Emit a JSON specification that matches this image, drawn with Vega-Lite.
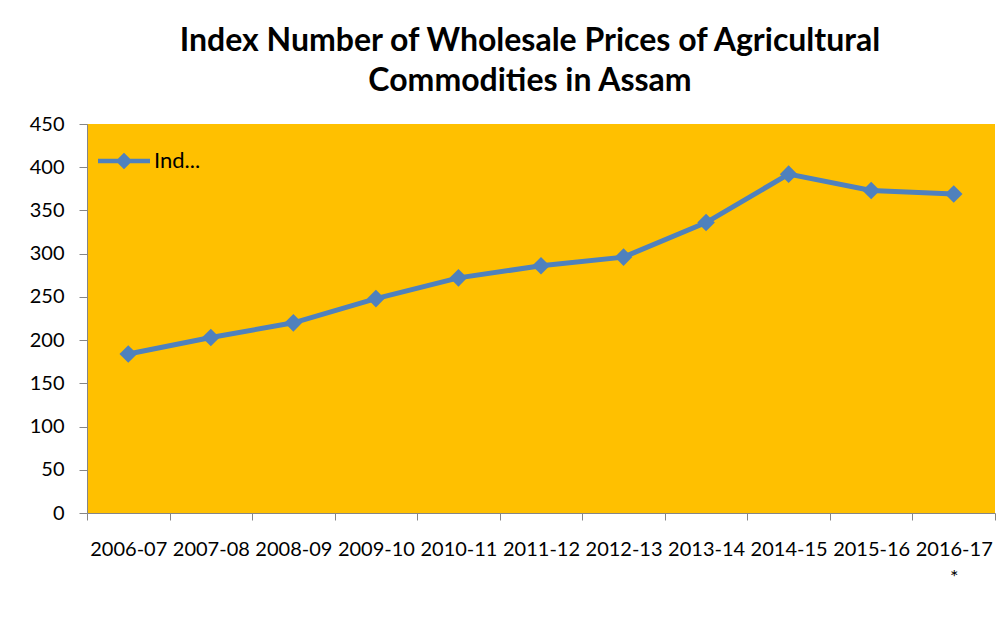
{
  "$schema": "https://vega.github.io/schema/vega-lite/v6.json",
  "autosize": {"type": "none"},
  "width": 908,
  "height": 389,
  "padding": {"left": 87, "top": 124, "right": 2, "bottom": 113},
  "background": "white",
  "title": {
    "text": ["Index Number of Wholesale Prices of Agricultural", "Commodities in Assam"],
    "font": "Lato",
    "fontSize": 32,
    "fontWeight": "bold",
    "color": "#000000",
    "lineHeight": 40,
    "offset": 16,
    "anchor": "middle",
    "dx": -11
  },
  "data": {
    "values": [
      {"year": "2006-07", "value": 184, "series": "Index"},
      {"year": "2007-08", "value": 203, "series": "Index"},
      {"year": "2008-09", "value": 220, "series": "Index"},
      {"year": "2009-10", "value": 248, "series": "Index"},
      {"year": "2010-11", "value": 272, "series": "Index"},
      {"year": "2011-12", "value": 286, "series": "Index"},
      {"year": "2012-13", "value": 296, "series": "Index"},
      {"year": "2013-14", "value": 336, "series": "Index"},
      {"year": "2014-15", "value": 392, "series": "Index"},
      {"year": "2015-16", "value": 373, "series": "Index"},
      {"year": "2016-17 *", "value": 369, "series": "Index"}
    ]
  },
  "encoding": {
    "x": {
      "field": "year",
      "type": "ordinal",
      "sort": null,
      "scale": {"type": "band", "paddingInner": 0, "paddingOuter": 0},
      "bandPosition": 0.5,
      "axis": {
        "title": null,
        "tickBand": "extent",
        "labelAngle": 0,
        "labelFont": "Lato",
        "labelFontSize": 20,
        "labelColor": "#000000",
        "labelPadding": 19,
        "labelLineHeight": 28,
        "labelOverlap": false,
        "labelBound": false,
        "labelFlush": false,
        "labelExpr": "split(datum.label, ' ')",
        "domainColor": "#868686",
        "tickColor": "#868686",
        "tickSize": 7,
        "grid": false
      }
    },
    "y": {
      "field": "value",
      "type": "quantitative",
      "scale": {"domain": [0, 450], "nice": false},
      "axis": {
        "title": null,
        "values": [0, 50, 100, 150, 200, 250, 300, 350, 400, 450],
        "labelFont": "Lato",
        "labelFontSize": 20,
        "labelColor": "#000000",
        "labelPadding": 15,
        "domainColor": "#868686",
        "tickColor": "#868686",
        "tickSize": 8,
        "grid": false
      }
    },
    "color": {
      "field": "series",
      "type": "nominal",
      "scale": {"range": ["#4F81BD"]},
      "legend": {
        "title": null,
        "orient": "top-left",
        "offset": 11,
        "padding": 0,
        "labelFont": "Lato",
        "labelFontSize": 22,
        "labelColor": "#000000",
        "labelExpr": "'Ind...'",
        "labelOffset": 4,
        "symbolType": "M-1,-0.09L1,-0.09L1,0.09L-1,0.09Z M0,-0.32L0.32,0L0,0.32L-0.32,0Z",
        "symbolSize": 2704,
        "encode": {
          "symbols": {
            "update": {
              "fill": {"value": "#4F81BD"},
              "stroke": {"value": "#4F81BD"},
              "strokeWidth": {"value": 0},
              "opacity": {"value": 1}
            }
          }
        }
      }
    }
  },
  "layer": [
    {"mark": {"type": "line", "strokeWidth": 5}},
    {"mark": {"type": "point", "shape": "diamond", "filled": true, "size": 310, "opacity": 1}}
  ],
  "config": {"view": {"fill": "#FFC000", "stroke": null}}
}
